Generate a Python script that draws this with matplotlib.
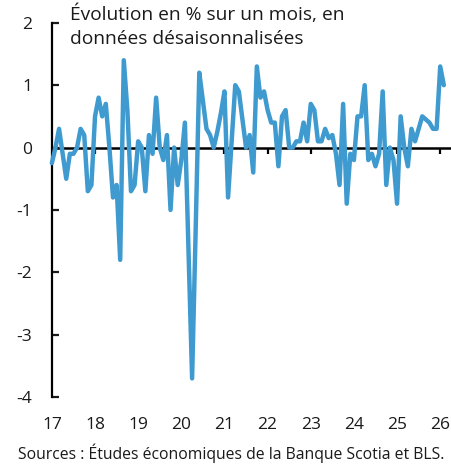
import pandas as pd
import matplotlib
matplotlib.use("Agg")
import matplotlib.pyplot as plt

# Monthly change (%), seasonally adjusted, Jan 2017 onwards
start_month = "2017-01"
values = [
    -0.25, 0.0, 0.3, -0.1, -0.5, -0.1, -0.1, 0.0, 0.3, 0.2, -0.7, -0.6,    # 2017
    0.5, 0.8, 0.5, 0.7, 0.0, -0.8, -0.6, -1.8, 1.4, 0.6, -0.7, -0.6,       # 2018
    0.1, 0.0, -0.7, 0.2, -0.1, 0.8, 0.0, -0.2, 0.2, -1.0, 0.0, -0.6,       # 2019
    -0.2, 0.4, -1.65, -3.7, -1.3, 1.2, 0.75, 0.3, 0.2, 0.0, 0.25, 0.55,    # 2020
    0.9, -0.8, 0.1, 1.0, 0.9, 0.45, 0.0, 0.2, -0.4, 1.3, 0.8, 0.9,         # 2021
    0.6, 0.4, 0.4, -0.3, 0.5, 0.6, 0.0, 0.0, 0.1, 0.1, 0.4, 0.1,           # 2022
    0.7, 0.6, 0.1, 0.1, 0.3, 0.15, 0.2, -0.1, -0.6, 0.7, -0.9, -0.1,       # 2023
    -0.2, 0.5, 0.5, 1.0, -0.2, -0.1, -0.3, -0.1, 0.9, -0.6, 0.0, -0.2,     # 2024
    -0.9, 0.5, 0.0, -0.3, 0.3, 0.1, 0.3, 0.5, 0.45, 0.4, 0.3, 0.3,         # 2025
    1.3, 1.0,                                                              # 2026
]
year_ticks = list(range(2017, 2027))
year_labels = [str(y)[2:] for y in year_ticks]
y_ticks = [2, 1, 0, -1, -2, -3, -4]

note_text = "Évolution en % sur un mois, en\ndonnées désaisonnalisées"
source_text = "Sources : Études économiques de la Banque Scotia et BLS."

line_color = "#3f9bcf"
text_color = "#1a1a1a"

plt.rcParams["font.family"] = ["Open Sans", "DejaVu Sans"]
plt.rcParams["axes.unicode_minus"] = False

dates = pd.date_range(start_month, periods=len(values), freq="MS")
x = dates.year + (dates.month - 1) / 12

fig = plt.figure(figsize=(4.51, 4.65), dpi=100)
ax = fig.add_axes([0.115, 0.146, 0.885, 0.805])

ax.plot(x, values, color=line_color, linewidth=3.2, solid_joinstyle="round",
        solid_capstyle="round", zorder=3, clip_on=False)

ax.set_xlim(2017.04, 2026.25)
ax.set_ylim(-4, 2)

ax.set_yticks(y_ticks)
ax.set_yticklabels([str(v) for v in y_ticks])
ax.tick_params(axis="y", direction="in", length=5, width=1.6, pad=14,
               labelsize=12.5, colors=text_color)

ax.set_xticks(year_ticks)
ax.set_xticklabels(year_labels)
ax.tick_params(axis="x", length=0, pad=14, labelsize=12.5, colors=text_color)

for side in ["top", "right", "bottom"]:
    ax.spines[side].set_visible(False)
ax.spines["left"].set_linewidth(1.6)
ax.spines["left"].set_color("black")

# zero line with small year ticks hanging under it
zero_pos = (0 - (-4)) / (2 - (-4))
zero_axis = ax.secondary_xaxis(zero_pos)
zero_axis.set_alignment("bottom")
zero_axis.set_xticks(year_ticks[1:])
zero_axis.tick_params(axis="x", direction="out", length=4, width=1.6,
                      labelbottom=False, labeltop=False)
zero_axis.spines["bottom"].set_linewidth(1.8)
zero_axis.spines["bottom"].set_color("black")

fig.text(70 / 451, 1 - 5 / 465, note_text, ha="left", va="top",
         fontsize=13.8, color=text_color, linespacing=1.4)
fig.text(18 / 451, 2 / 465, source_text, ha="left", va="bottom",
         fontsize=11.3, color=text_color)

fig.savefig("out.png", dpi=100)
